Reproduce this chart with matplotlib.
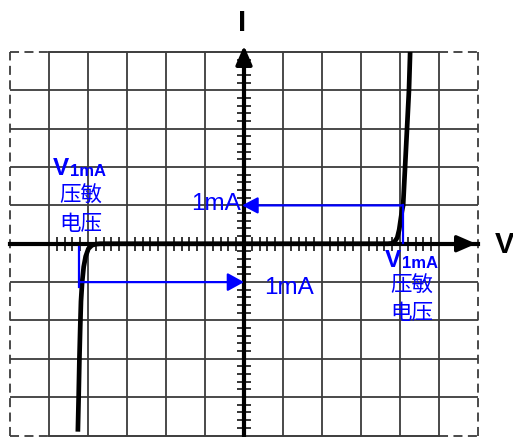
import numpy as np
import matplotlib.pyplot as plt
from matplotlib.ticker import FixedLocator, NullLocator

# varistor V-I curve, in grid cells (1 cell on I axis = 1mA)
curve_v = [-4.26, -4.24, -4.22, -4.20, -4.18, -4.15, -4.11, -4.06, -3.99, -3.90, -3.80, -3.69,
           3.69, 3.79, 3.86, 3.93, 3.98, 4.02, 4.05, 4.08, 4.13, 4.18, 4.23, 4.26]
curve_i = [-4.9, -4.0, -3.0, -2.2, -1.5, -1.0, -0.6, -0.33, -0.13, -0.04, -0.01, 0.0,
           0.0, 0.01, 0.05, 0.16, 0.37, 0.65, 0.85, 1.0, 2.0, 3.0, 4.0, 5.0]

v1ma_neg = -4.23
v1ma_pos = 4.08
i_1ma = 1.0

grid_v = [-5, -4, -3, -2, -1, 1, 2, 3, 4, 5]
grid_i = [-4, -3, -2, -1, 1, 2, 3, 4]
ticks_v = [t for t in np.round(np.arange(-5, 5.01, 0.2), 1) if t != int(t)]
ticks_i = ticks_v

fonts = ['Liberation Sans', 'Noto Sans CJK SC']
blue = '#0000ff'
gcol = '#3c3c3c'
dash = (0, (5, 3))

fig = plt.figure(figsize=(5.13, 4.37), dpi=100)
ax = fig.add_axes([10 / 513, 1.5 / 437, 468 / 513, 383.5 / 437])
ax.set_xlim(-6, 6)
ax.set_ylim(-5, 5)

# grid
ax.vlines(grid_v, -5, 5, color=gcol, lw=1.3, zorder=1)
ax.hlines(grid_i, -6, 6, color=gcol, lw=1.3, zorder=1)
for y in [-5, 5]:
    ax.plot([-5, 5], [y, y], color=gcol, lw=1.4, clip_on=False, zorder=2)
    ax.plot([-6, -5], [y, y], color=gcol, lw=1.3, ls=dash, clip_on=False)
    ax.plot([5, 6], [y, y], color=gcol, lw=1.3, ls=dash, clip_on=False)
for x in [-6, 6]:
    ax.plot([x, x], [-5, 5], color=gcol, lw=1.3, ls=dash, clip_on=False)

# axes through origin
for s in ['top', 'right']:
    ax.spines[s].set_visible(False)
ax.spines['left'].set_position('zero')
ax.spines['bottom'].set_position('zero')
ax.spines['left'].set_linewidth(3)
ax.spines['bottom'].set_linewidth(3)
ax.spines['left'].set_zorder(3)
ax.spines['bottom'].set_zorder(3)
ax.xaxis.set_major_locator(NullLocator())
ax.yaxis.set_major_locator(NullLocator())
ax.xaxis.set_minor_locator(FixedLocator(ticks_v))
ax.yaxis.set_minor_locator(FixedLocator(ticks_i))
ax.tick_params(which='minor', direction='inout', length=9.5, width=1.1, color='k')
ax.tick_params(labelbottom=False, labelleft=False)

ax.annotate('', xy=(0, 5.16), xytext=(0, 4.5), annotation_clip=False,
            arrowprops=dict(arrowstyle='-|>,head_length=1.15,head_width=0.5', mutation_scale=10,
                            lw=2.5, color='k', shrinkA=0, shrinkB=0))
ax.annotate('', xy=(5.95, 0), xytext=(5.3, 0), annotation_clip=False,
            arrowprops=dict(arrowstyle='-|>,head_length=1.15,head_width=0.5', mutation_scale=10,
                            lw=2.5, color='k', shrinkA=0, shrinkB=0))
ax.text(-0.05, 5.76, 'I', fontsize=21, fontweight='bold', family=fonts, ha='center', va='center')
ax.text(6.44, -0.03, 'V', fontsize=21, fontweight='bold', family=fonts, ha='left', va='center')

# curve
ax.plot(curve_v, curve_i, color='k', lw=3.4, solid_joinstyle='round', solid_capstyle='butt', zorder=4)

# 1mA markers
ax.plot([v1ma_pos, v1ma_pos], [i_1ma, 0.03], color=blue, lw=1.6, zorder=5)
ax.annotate('', xy=(-0.05, i_1ma), xytext=(v1ma_pos, i_1ma),
            arrowprops=dict(arrowstyle='-|>,head_length=0.95,head_width=0.5', mutation_scale=10,
                            lw=1.6, color=blue, shrinkA=0, shrinkB=0), zorder=5)
ax.plot([v1ma_neg, v1ma_neg], [-0.08, -1.12], color=blue, lw=1.6, zorder=5)
ax.annotate('', xy=(0, -i_1ma), xytext=(v1ma_neg, -i_1ma),
            arrowprops=dict(arrowstyle='-|>,head_length=1.0,head_width=0.55', mutation_scale=10,
                            lw=1.6, color=blue, shrinkA=0, shrinkB=0), zorder=5)

ax.text(-0.72, 1.03, '1mA', fontsize=17.5, color=blue, family=fonts, ha='center', va='center')
ax.text(1.15, -1.15, '1mA', fontsize=17.5, color=blue, family=fonts, ha='center', va='center')

for vx, vy, cx, cy1, cy2 in [(-4.9, 1.80, -4.19, 1.24, 0.50), (3.61, -0.60, 4.31, -1.11, -1.81)]:
    ax.text(vx, vy, 'V', fontsize=17.5, fontweight='bold', color=blue, family=fonts, ha='left', va='baseline')
    ax.text(vx + 0.44, vy - 0.03, '1mA', fontsize=12, fontweight='bold', color=blue, family=fonts,
            ha='left', va='baseline')
    ax.text(cx, cy1, '压敏', fontsize=15.5, color=blue, family=fonts, ha='center', va='center')
    ax.text(cx, cy2, '电压', fontsize=15.5, color=blue, family=fonts, ha='center', va='center')

fig.savefig('out.png', dpi=100)
